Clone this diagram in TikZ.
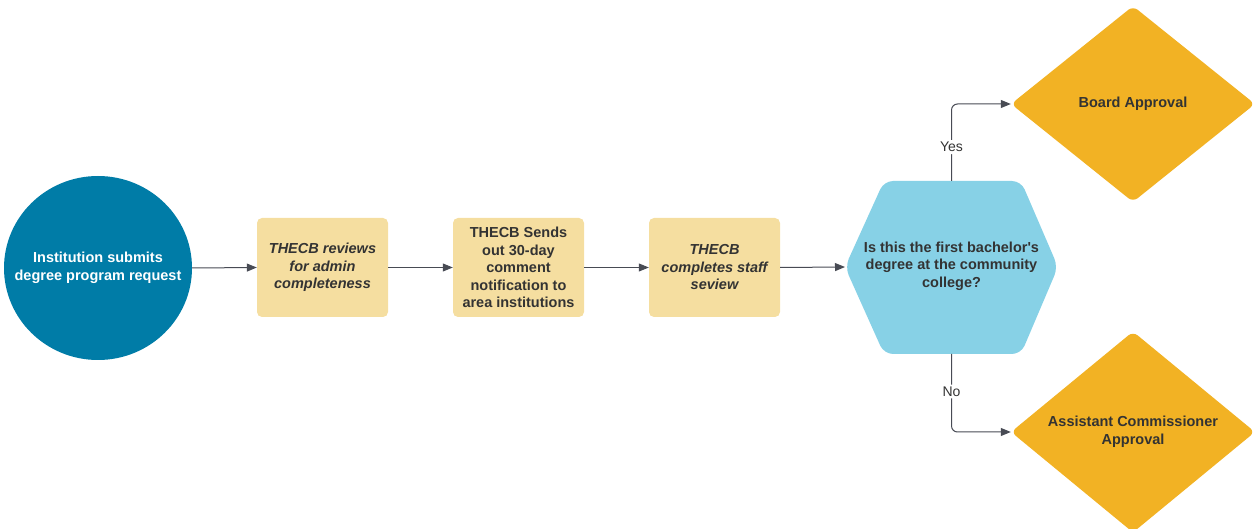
\documentclass[tikz,border=0pt]{standalone}
\usepackage{fontspec}
\setmainfont{Liberation Sans}
\newfontfamily\lsans{Liberation Sans}
\usetikzlibrary{arrows.meta,shapes.geometric}
\definecolor{circfill}{RGB}{0,124,167}
\definecolor{boxfill}{RGB}{245,222,160}
\definecolor{hexfill}{RGB}{135,209,230}
\definecolor{diafill}{RGB}{242,178,36}
\definecolor{txt}{RGB}{51,51,51}
\definecolor{arr}{RGB}{72,75,84}
\tikzset{
  base/.style={font=\lsans\fontsize{14.5}{17.5}\selectfont\bfseries, text=txt, align=center, inner sep=0pt},
  stepbox/.style={base, fill=boxfill, rounded corners=5pt, minimum width=131pt, minimum height=99pt},
  decision/.style={base, diamond, fill=diafill, rounded corners=6pt, minimum width=244pt, minimum height=196pt},
  conn/.style={draw=arr, line width=1pt, -{Triangle[length=10pt,width=8pt]}, rounded corners=6pt},
  lbl/.style={font=\lsans\fontsize{14}{17}\selectfont, text=txt, fill=white, inner sep=2pt}
}
\begin{document}
\begin{tikzpicture}[x=1pt,y=-1pt]
\useasboundingbox (0,0) rectangle (1254,529);
% start ellipse
\node[ellipse, fill=circfill, inner sep=0pt, minimum width=188pt, minimum height=184pt] (start) at (98,268) {};
\node[base, text=white] (starttext) at (start) {Institution submits\\degree program request};
% steps
\node[stepbox] (s1) at (322.5,267.5) {\itshape THECB reviews\\\itshape for admin\\\itshape completeness};
\node[stepbox] (s2) at (518.5,267.5) {THECB Sends\\out 30-day\\comment\\notification to\\area institutions};
\node[stepbox] (s3) at (714.5,267.5) {\itshape THECB\\\itshape completes staff\\\itshape seview};
% hexagon
\fill[hexfill, rounded corners=9pt] (845,267) -- (884,181) -- (1021,181) -- (1058,267) -- (1021,354) -- (884,354) -- cycle;
\coordinate (ql) at (845,267);
\coordinate (qt) at (951.5,181);
\coordinate (qb) at (951.5,354);
\node[base] (q) at (951.5,266) {Is this the first bachelor\textquotesingle s\\degree at the community\\college?};
% decisions
\node[decision] (board) at (1133,104) {Board Approval};
\node[decision] (assist) at (1133,432) {Assistant Commissioner\\Approval};
% connectors
\draw[conn] (start.east) -- (s1.west);
\draw[conn] (s1.east) -- (s2.west);
\draw[conn] (s2.east) -- (s3.west);
\draw[conn] (s3.east) -- (ql);
\draw[conn] (qt) |- (board.west) node[lbl, pos=0.22] (yes) {Yes};
\draw[conn] (qb) |- (assist.west) node[lbl, pos=0.24] (no) {No};
\end{tikzpicture}
\end{document}
